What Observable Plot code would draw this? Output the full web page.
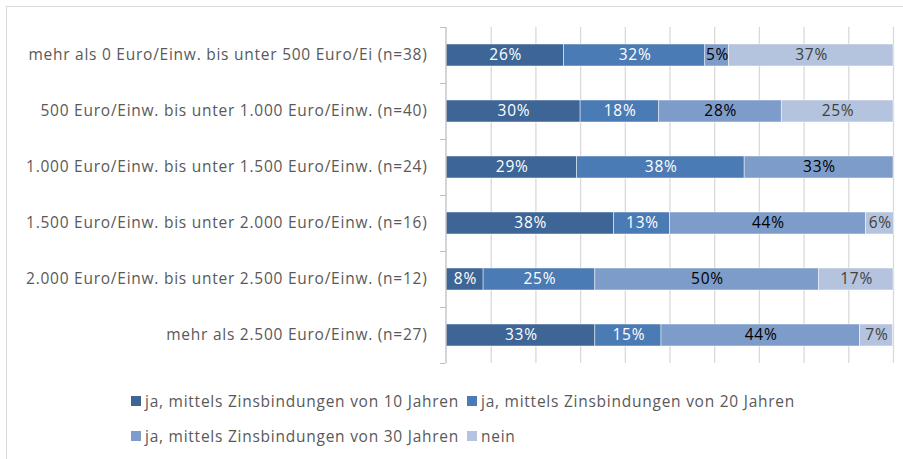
<!DOCTYPE html>
<html>
<head>
<meta charset="utf-8">
<script src="https://cdn.jsdelivr.net/npm/d3@7"></script>
<script src="https://cdn.jsdelivr.net/npm/@observablehq/plot@0.6"></script>
<style>
  html, body { margin: 0; padding: 0; background: #fff; overflow: hidden; }
  body { width: 903px; height: 459px; position: relative; font-family: "Open Sans", sans-serif; }
  #frame { position: absolute; left: 6px; top: 6px; width: 1000px; height: 1000px; border: 1px solid #d9d9d9; box-sizing: border-box; }
  #chart { position: absolute; left: 0; top: 0; }
  #chart svg text { letter-spacing: 0.75px; }
  #legend { position: absolute; left: 131px; top: 389px; display: grid; grid-template-columns: 336px auto; row-gap: 12px; font-size: 15.5px; letter-spacing: 0.75px; color: #595959; }
  .item { display: flex; align-items: center; white-space: nowrap; height: 23px; }
  .sw { width: 10px; height: 10px; margin-right: 4px; display: inline-block; }
</style>
</head>
<body>
<div id="frame"></div>
<div id="chart"></div>
<div id="legend"></div>
<script>
const categories = [
  "mehr als 0 Euro/Einw. bis unter 500 Euro/Ei (n=38)",
  "500 Euro/Einw. bis unter 1.000 Euro/Einw. (n=40)",
  "1.000 Euro/Einw. bis unter 1.500 Euro/Einw. (n=24)",
  "1.500 Euro/Einw. bis unter 2.000 Euro/Einw. (n=16)",
  "2.000 Euro/Einw. bis unter 2.500 Euro/Einw. (n=12)",
  "mehr als 2.500 Euro/Einw. (n=27)"
];
const series = [
  "ja, mittels Zinsbindungen von 10 Jahren",
  "ja, mittels Zinsbindungen von 20 Jahren",
  "ja, mittels Zinsbindungen von 30 Jahren",
  "nein"
];
const zins10 = [26.3, 30.0, 29.2, 37.5, 8.3, 33.3];
const zins20 = [31.6, 17.5, 37.5, 12.5, 25.0, 14.8];
const zins30 = [5.3, 27.5, 33.3, 43.8, 50.0, 44.4];
const nein   = [36.8, 25.0, 0, 6.3, 16.7, 7.4];
const colors = ["#3d6596", "#4a7bb5", "#7e9cc9", "#b4c3de"];
const labelColors = ["#ffffff", "#ffffff", "#000000", "#404040"];

const seriesValues = [zins10, zins20, zins30, nein];
const data = [];
categories.forEach((c, i) => {
  series.forEach((s, j) => {
    const v = seriesValues[j][i];
    if (v > 0) data.push({cat: c, series: s, si: j, value: v, label: Math.round(v) + "%"});
  });
});

const font = "'Open Sans', sans-serif";
const chart = Plot.plot({
  width: 903,
  height: 380,
  marginLeft: 446,
  marginRight: 10,
  marginTop: 27,
  marginBottom: 17,
  style: {fontFamily: font, fontSize: "15.5px", color: "#595959", background: "transparent"},
  x: {domain: [0, 100], axis: null},
  y: {domain: categories, paddingInner: 0.6, paddingOuter: 0.3, axis: null},
  color: {domain: series, range: colors},
  marks: [
    Plot.ruleX(d3.range(10, 101, 10), {stroke: "#d9d9d9", strokeWidth: 1.3}),
    Plot.barX(data, Plot.stackX({x: "value", y: "cat", fill: "series", order: "si", stroke: "#ffffff", strokeWidth: 0.6, strokeOpacity: 0.8})),
    Plot.text(data, Plot.stackX({x: "value", y: "cat", z: "series", order: "si", text: "label", fill: d => labelColors[d.si], fontSize: 15.5, dx: 0.4})),
    Plot.ruleX([0], {stroke: "#bfbfbf", strokeWidth: 1.3, dx: -0.5}),
    Plot.ruleY(categories, {y: d => d, x1: -1.2, x2: 0, stroke: "#bfbfbf", dy: -28, dx: -0.5}),
    Plot.ruleY(categories.slice(-1), {y: d => d, x1: -1.2, x2: 0, stroke: "#bfbfbf", dy: 28, dx: -0.5}),
    Plot.axisY({tickSize: 0, tickPadding: 19, fontSize: 15.5, fill: "#595959", label: null})
  ]
});
document.getElementById("chart").appendChild(chart);

const legend = document.getElementById("legend");
series.forEach((s, j) => {
  const item = document.createElement("div");
  item.className = "item";
  const sw = document.createElement("span");
  sw.className = "sw";
  sw.style.background = colors[j];
  item.appendChild(sw);
  item.appendChild(document.createTextNode(s));
  legend.appendChild(item);
});
</script>
</body>
</html>
